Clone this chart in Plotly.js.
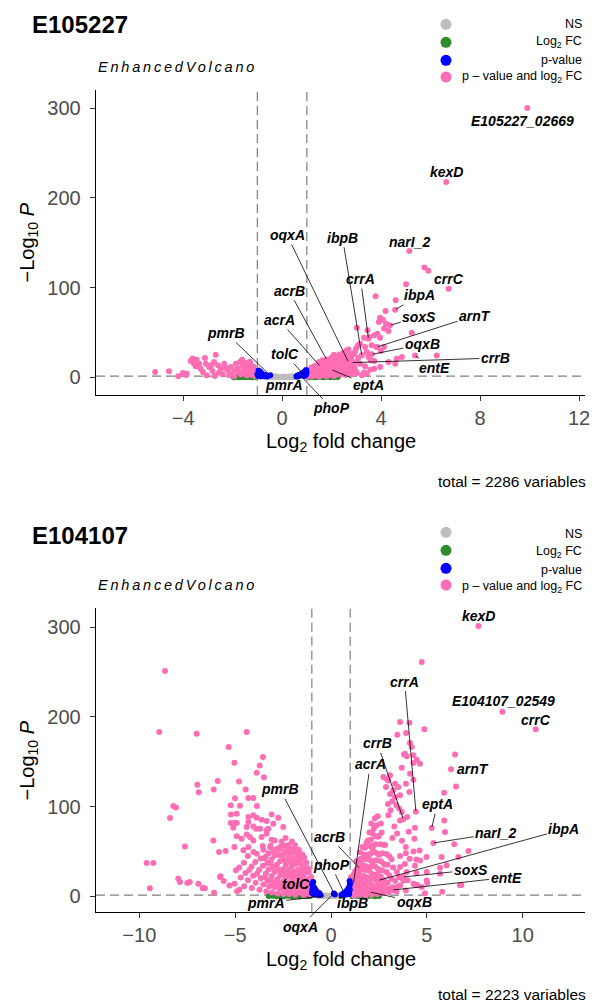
<!DOCTYPE html>
<html><head><meta charset="utf-8">
<script src="https://cdn.plot.ly/plotly-3.0.1.min.js"></script>
<style>html,body{margin:0;padding:0;background:#fff}#chart{width:592px;height:1004px}</style>
</head><body><div id="chart"></div>
<script>
// ---------------- DATA ----------------
const panelTitles = ["E105227", "E104107"];
const totals = [2286, 2223];
const legendLabels = ["NS", "Log<sub>2</sub> FC", "p-value", "p \u2013 value and log<sub>2</sub> FC"];
const xTicksTop = [-4, 0, 4, 8, 12];
const xTicksBottom = [-10, -5, 0, 5, 10];
const yTicks = [0, 100, 200, 300];
const fcCutoff = 1;
const pCutoffLog = 1.3;

// ---- E105227 ----
const topGenes = ["E105227_02669","kexD","narI_2","crrC","ibpA","soxS","arnT","oqxB","crrB","entE","eptA","crrA","ibpB","oqxA","acrB","acrA","tolC","pmrA","phoP","pmrB"];
const topGeneX = [9.91,6.63,5.14,6.73,4.57,4.36,3.83,3.62,2.82,5.37,2.0,3.49,3.22,2.68,1.8,1.54,0.88,0.3,0.73,-0.48];
const topGeneY = [300.3,217.8,140.8,98.8,75.4,58,33.8,25.6,16.4,24.2,8.5,43,24.5,17,19.7,12.3,3,0.8,2.2,2.2];
const topBoth = [
[5.75,122.3],[5.91,118.9],[5.01,103.7],[3.78,90.3],[4.59,85.8],[4.18,73.9],[3.96,66.5],[4.07,64.3],[3.91,61.7],[4.2,59.8],[4.12,54.3],[4.3,51.7],[3.02,55.4],[3.45,52.4],[3.53,45],[3.31,44.2],[3.73,46.8],[3.85,48.7],[3.96,44.2],[5.24,49.8],[3.15,37.5],[3.35,33.8],[2.99,32],[3.42,28.2],[3.62,35.7],[3.82,33.8],[3.99,29.4],[4.12,33.8],[3.49,22.7],[3.72,18.2],[4.63,20.8],[4.84,22.7],[6.25,24.2],[4.3,17.1],[4.57,15.2],[3.15,15.2],[3.35,12.3],[3.42,4.1],[3.22,2.2],[3.02,4.8],[2.91,9.7],[3.56,8.5],[3.96,11.5],[3.08,21.9],[2.81,25.6],[2.61,28.2],[3.58,19],[3.72,9.7],[3.31,5.5],
[1.04,1.2],[1.1,4.9],[1.06,7.3],[1.2,0.8],[1.15,3.9],[1.24,6.6],[1.18,10.9],[1.35,1.9],[1.3,4.6],[1.38,8.2],[1.31,12.6],[1.42,6.8],[1.5,0.6],[1.45,4.2],[1.53,6.8],[1.47,11.1],[1.55,13.6],[1.49,17.2],[1.65,2.6],[1.59,5.9],[1.68,8.4],[1.61,12.9],[1.7,15.1],[1.63,18.9],[1.8,1.1],[1.74,4.4],[1.83,7],[1.76,10.8],[1.85,13.3],[1.78,17.6],[1.87,19.8],[1.95,2.9],[1.89,6.4],[1.98,8.7],[1.9,13.2],[2.0,15.3],[1.92,19.8],[2.01,22.1],[2.1,1.6],[2.04,5.2],[2.13,7.6],[2.05,12],[2.15,14.3],[2.07,18.9],[2.16,21.1],[2.09,25.2],[2.25,3.4],[2.19,6.9],[2.28,9.5],[2.2,14.2],[2.3,17.1],[2.22,21.8],[2.31,25.3],[2.4,4.1],[2.34,7.8],[2.43,10.7],[2.35,15.9],[2.45,19],[2.37,24.4],[2.46,27.1],[2.55,2.7],[2.49,6.7],[2.58,9.8],[2.5,15.3],[2.6,18.3],[2.52,23.7],[2.59,29.6],[2.7,4.9],[2.64,9.4],[2.73,13.3],[2.65,18.8],[2.75,23.5],[2.68,31],[2.85,3.7],[2.79,8.5],[2.88,12.6],[2.8,20.4],[2.89,26],[2.98,6.8],[2.93,11.5],[3.04,18],[2.95,28.9],[3.06,35.6],
[-5.13,5.9],[-4.57,6.7],[-4.2,1.1],[-3.85,4],[-4.01,4.8],[-3.88,2.5],[-3.69,18.2],[-3.56,15.2],[-3.45,19.7],[-3.35,15.2],[-3.49,12.3],[-3.62,21],[-3.12,21.6],[-3.29,9.7],[-3.08,15.2],[-2.95,11.5],[-2.68,25.3],[-2.75,17.1],[-2.81,7.1],[-2.59,13.4],[-2.48,9.7],[-2.34,15.2],[-2.21,7.8],[-2.41,3.3],[-2.07,11.5],[-2.0,4.8],[-1.87,15.2],[-1.8,9.7],[-1.7,17.1],[-1.6,12.3],[-1.54,7.1],[-1.47,16],[-1.4,11.5],[-1.33,5.9],[-1.27,14.5],[-1.2,9.7],[-1.13,4.8],[-1.67,3.3],[-2.14,2.2],[-1.94,1.1],[-1.43,2.2],[-1.06,7.8],[-3.05,2.2],[-2.72,1.5],[-1.58,4.5],[-1.25,2.8],[-1.15,11.8],[-1.36,8.4],[-1.52,10.5],[-1.75,6.2],[-1.9,8.3],[-2.3,10.8],[-2.55,5.2],[-1.1,1.5],[-1.3,17.5],[-1.62,19.5],[-2.85,13.8],[-3.2,5.8]
];
const topP = [[-1.0,3.5],[-0.97,1.4],[-0.93,5.2],[-0.9,2.6],[-0.86,0.9],[-0.83,4.1],[-0.8,2],[-0.76,3.2],[-0.72,1.2],[-0.68,2.5],[-0.64,1.6],[-0.6,0.8],[-0.95,7.5],[-0.88,6.3],[0.58,1],[0.62,1.9],[0.66,1.2],[0.7,2.8],[0.74,1.9],[0.78,3.9],[0.82,2.6],[0.85,5.1],[0.88,3.4],[0.91,6.6],[0.94,4.3],[0.97,8.1],[0.99,5.5],[0.9,1.4],[0.96,2.5]];
const topNS = [[-0.58,0.4],[-0.5,0.7],[-0.44,0.2],[-0.38,0.5],[-0.3,0.3],[-0.22,0.6],[-0.15,0.2],[-0.08,0.4],[0,0.1],[0.07,0.5],[0.14,0.3],[0.22,0.6],[0.3,0.2],[0.37,0.5],[0.45,0.3],[0.52,0.6],[0.56,0.2],[-0.54,1],[-0.26,1.1],[0.1,1],[0.42,1.1],[-0.65,0.2],[0.62,0.3]];
const topFC = [[-1.95,0.2],[-1.85,0.5],[-1.72,0.1],[-1.6,0.4],[-1.48,0.1],[-1.36,0.5],[-1.22,0.2],[-1.1,0.3],[1.12,0.2],[1.25,0.5],[1.38,0.1],[1.52,0.4],[1.66,0.1],[1.8,0.5],[1.95,0.2],[2.1,0.1],[2.25,0.4]];

// ---- E104107 ----
const botGenes = ["kexD","E104107_02549","crrC","crrA","arnT","crrB","acrA","eptA","narI_2","ibpA","soxS","entE","oqxB","ibpB","oqxA","pmrA","tolC","phoP","acrB","pmrB"];
const botGeneX = [7.69,8.94,10.68,4.43,6.26,3.77,1.17,5.25,5.34,2.47,3.77,3.2,2.03,0.8,0.15,-0.3,-0.97,0.7,1.51,0.2];
const botGeneY = [301.4,205.9,186.2,94.4,141.6,86,14.1,76.2,59.5,17.8,21.6,7,4.8,2,3.3,0.5,13,3,30.8,2];
const botBoth = [
[4.73,261.2],[4.87,186.2],[4.09,193.6],[3.6,194.4],[3.46,180.2],[3.91,182.1],[4.12,170.9],[4.21,166.5],[3.81,158.3],[3.95,156.1],[4.47,152.4],[4.64,147.9],[4.3,148.6],[6.47,158.3],[6.52,122.6],[5.9,115.6],[2.9,131.2],[3.08,134.9],[3.34,125.6],[3.51,122],[3.25,118.2],[3.86,159],[4.3,157.2],[3.69,143.4],[4.12,136.8],[4.3,130],[3.91,125.6],[4.09,116.3],[2.73,133],[2.99,129.3],[2.87,121.9],[3.08,114],[3.34,110.5],[3.2,106],[3.41,101.5],[2.97,103],[3.55,98],[3.6,112.6],[3.11,95.9],[2.99,90.3],[3.6,84.7],[3.69,94],[3.98,88.4],[4.38,76.6],[4.05,72],[3.3,78],[3.45,70],[3.2,65],[3.7,62],[3.9,55],[4.3,50],[4.1,42],[4.38,34],[4.45,26],[5.91,84.7],[5.95,71.7],[6.43,58],[6.64,43.8],[5.77,43.8],[5.69,32],[6.03,34.6],[6.73,12.3],[5.69,25.3],[4.99,27.1],[5.02,15],[4.4,13],[4.0,18],[3.85,36],[4.65,40],[4.35,64.3],[7.17,50.5],[4.62,51],[4.98,44],[4.45,41],[3.9,48],[3.6,45],[3.77,17.8],[4.3,14.1],[4.73,10.4],[4.99,17.8],[3.6,32.7],[3.95,27.1],[3.43,10.4],[3.08,8.5],[3.9,6.4],[4.5,12.7],[4.9,3.5],[5.8,5.2],[6.8,12.7],
[1.03,2.6],[1.1,5.9],[1.05,11.1],[1.12,14.6],[1.04,21.2],[1.21,1.1],[1.15,6.2],[1.24,8.7],[1.17,14.4],[1.25,17.6],[1.19,24.3],[1.26,27.9],[1.36,2.7],[1.3,8.1],[1.39,10.6],[1.31,17.2],[1.4,20.8],[1.32,27.1],[1.38,31.6],[1.33,39.2],[1.51,1.9],[1.45,5.9],[1.54,8.8],[1.47,15.1],[1.56,18.6],[1.46,25.5],[1.53,29.4],[1.48,37.2],[1.55,41.6],[1.5,49.1],[1.66,3.9],[1.6,8.9],[1.69,12.4],[1.61,19.3],[1.7,22.6],[1.62,30.4],[1.68,34.6],[1.6,42.1],[1.71,46.6],[1.64,55.1],[1.81,0.9],[1.75,7.1],[1.84,10.5],[1.76,17.2],[1.85,21.4],[1.77,29.3],[1.83,33.5],[1.74,41.4],[1.86,45.5],[1.78,54.2],[1.84,59.6],[1.96,4.9],[1.9,8.6],[1.99,15.9],[1.91,20.4],[2.0,28.3],[1.92,32.4],[1.98,41.2],[1.89,46.4],[2.01,56.3],[1.93,62.4],[2.0,71.1],[2.11,1.7],[2.05,8.1],[2.14,12.6],[2.06,20.1],[2.15,24.5],[2.07,33.2],[2.13,38.6],[2.04,47.1],[2.16,53.5],[2.08,63.2],[2.15,70.4],[2.1,81.1],[2.26,5.8],[2.2,10.6],[2.29,19.1],[2.21,24.3],[2.3,33.3],[2.22,39.5],[2.28,49.2],[2.19,56.4],[2.31,67.1],[2.23,75.5],[2.29,87.2],[2.41,2.6],[2.35,10.1],[2.44,15.6],[2.36,24.2],[2.45,30.4],[2.37,40.3],[2.43,47.4],[2.34,58.1],[2.46,66.5],[2.38,79.2],[2.44,89.3],[2.56,7.1],[2.5,12.4],[2.59,22.2],[2.51,28.5],[2.6,39.1],[2.52,46.5],[2.58,58.2],[2.49,67.4],[2.6,81.2],[2.71,3.4],[2.65,12.1],[2.74,18.5],[2.66,29.2],[2.75,36.4],[2.67,48.1],[2.73,57.5],[2.64,71.1],[2.86,9.1],[2.8,16.4],[2.89,27.2],[2.81,35.5],[2.9,47.1],[2.82,57.4],[3.01,4.6],[2.95,15.1],[3.04,23.4],[2.96,35.2],[3.05,44.5],[3.21,10.1],[3.15,19.5],[3.24,32.1],[3.16,41.3],[3.41,5.5],[3.35,17.2],[3.44,27.3],[3.61,12.1],[3.55,21.4],
[-8.66,251.2],[-8.96,183.2],[-7.01,181.3],[-4.4,183.2],[-5.34,166.5],[-5.04,149],[-3.55,155.3],[-3.72,146],[-3.88,137.7],[-3.5,132.7],[-5.91,128.6],[-6.97,124.3],[-6.9,116.1],[-6.12,119.1],[-4.8,128.2],[-4.45,119.1],[-5.01,109.5],[-4.31,109.8],[-4.05,109.8],[-3.87,100.7],[-8.23,100.7],[-8.09,99.2],[-8.4,87.3],[-5.23,101.5],[-4.75,101.1],[-5.22,91.4],[-4.92,92.2],[-4.31,88.4],[-4.05,90.3],[-3.88,87.7],[-3.62,85.5],[-3.36,84],[-3.1,91.4],[-2.75,87.7],[-5.01,82.1],[-4.4,77.3],[-4.05,78],[-3.7,75.4],[-3.36,73.6],[-3.01,81],[-2.49,77.3],[-6.14,62.4],[-7.62,55.7],[-5.84,49.4],[-5.5,50.5],[-5.04,55],[-4.57,51.3],[-4.31,55],[-4.05,49.4],[-3.53,52],[-3.18,55],[-2.92,51.3],[-2.66,53.1],[-2.4,49.4],[-9.62,37.2],[-9.27,37.2],[-7.97,19.7],[-5.76,22.3],[-9.45,9],[-7.88,15.9],[-7.37,15.9],[-6.58,9],[-5.6,17],[-4.9,5.6],[-6.1,4],[-5.3,12],[-5.23,81.8],[-5.1,76.6],[-4.92,81.8],[-4.31,82.9],[-3.91,75.4],[-3.27,75.4],[-4.92,66.9],[-4.66,64.3],[-4.4,69.1],[-4.23,66.1],[-4.05,62.4],[-3.62,66.1],[-3.36,69.9],[-3.1,63.2],[-7.5,14.9],[-6.92,14.1],[-6.7,9.3],[-5.79,21.6],
[-1.06,2.1],[-1.15,6.8],[-1.09,11.9],[-1.18,15.2],[-1.04,21.5],[-1.16,27.3],[-1.27,3.4],[-1.21,9.8],[-1.33,13.6],[-1.22,19.1],[-1.3,26.9],[-1.2,31.4],[-1.29,37.6],[-1.41,1.1],[-1.36,6.9],[-1.46,10.4],[-1.37,18.2],[-1.45,22.4],[-1.38,30.1],[-1.47,34.6],[-1.4,43.3],[-1.57,3.9],[-1.51,7.6],[-1.6,15.1],[-1.52,19.4],[-1.61,27.2],[-1.53,32.4],[-1.58,41.1],[-1.5,46.6],[-1.72,4.6],[-1.65,12.1],[-1.77,16.3],[-1.66,24.2],[-1.74,29.5],[-1.67,38.1],[-1.76,43.5],[-1.68,52.1],[-1.86,1.8],[-1.81,8.9],[-1.9,13.6],[-1.82,22.1],[-1.93,27.3],[-1.83,36.2],[-1.91,41.6],[-1.8,48.4],[-1.88,57.1],[-2.03,6.1],[-1.96,10.3],[-2.06,19.2],[-1.97,24.4],[-2.05,33.1],[-1.95,38.5],[-2.07,47.2],[-1.98,52.3],[-2.04,61.1],[-2.18,2.6],[-2.11,9.9],[-2.2,15.3],[-2.12,24.1],[-2.21,29.4],[-2.1,38.2],[-2.19,43.4],[-2.13,52.2],[-2.22,57.3],[-2.33,7.1],[-2.26,12.4],[-2.35,21.2],[-2.27,26.3],[-2.36,35.2],[-2.25,40.4],[-2.34,49.1],[-2.28,55.2],[-2.37,65.1],[-2.48,2.7],[-2.41,10.9],[-2.5,16.4],[-2.42,25.2],[-2.51,30.3],[-2.4,40.1],[-2.49,46.2],[-2.43,56.3],[-2.63,8.1],[-2.56,13.2],[-2.65,23.1],[-2.57,29.3],[-2.66,39.1],[-2.55,45.2],[-2.64,55.1],[-2.58,61.3],[-2.78,3.3],[-2.71,13.1],[-2.8,19.2],[-2.72,29.1],[-2.81,35.4],[-2.7,46.1],[-2.79,53.3],[-2.93,10.2],[-2.86,16.3],[-2.95,27.1],[-2.87,34.2],[-2.96,45.2],[-2.85,51.4],[-2.94,62.2],[-3.08,4.4],[-3.01,15.1],[-3.1,22.3],[-3.02,33.1],[-3.11,41.2],[-3.0,51.1],[-3.23,11.1],[-3.16,18.4],[-3.25,30.1],[-3.17,37.2],[-3.26,48.1],[-3.15,56.3],[-3.38,5.3],[-3.31,17.2],[-3.4,25.4],[-3.32,37.1],[-3.41,44.3],[-3.53,13.1],[-3.46,21.3],[-3.55,34.2],[-3.47,42.4],[-3.56,56.2],[-3.73,7.3],[-3.66,20.1],[-3.75,29.4],[-3.67,42.2],[-3.93,15.1],[-3.86,25.3],[-3.95,38.2],[-3.87,47.4],[-4.13,9.2],[-4.06,23.1],[-4.14,33.3],[-4.33,18.1],[-4.26,29.3],[-4.34,45.1],[-4.53,11.3],[-4.46,26.1],[-4.54,37.4],[-4.78,7.4],[-4.71,21.1],[-4.79,32.3],[-5.03,14.2],[-4.96,29.1]
];
const botP = [[-1.0,4],[-0.97,8],[-0.95,11],[-0.92,2.5],[-0.9,6],[-0.87,9.5],[-0.84,3.5],[-0.8,7],[-0.77,2],[-0.74,5],[-0.7,3],[-0.66,1.8],[-0.62,3.8],[-0.58,2.2],[-0.55,1.6],[-0.99,14],[-0.93,16],[0.55,1.6],[0.6,2.5],[0.64,1.9],[0.68,3.6],[0.72,2.4],[0.76,5],[0.8,3.2],[0.84,6.8],[0.87,4.4],[0.9,8.5],[0.93,5.7],[0.96,11],[0.98,7.5],[0.99,14],[0.95,2.6],[0.97,17]];
const botNS = [[-0.58,0.4],[-0.5,0.7],[-0.44,0.2],[-0.38,0.5],[-0.3,0.3],[-0.22,0.6],[-0.15,0.2],[-0.08,0.4],[0,0.1],[0.07,0.5],[0.14,0.3],[0.22,0.6],[0.3,0.2],[0.37,0.5],[0.45,0.3],[0.52,0.6],[0.56,0.2],[-0.54,1],[-0.26,1.1],[0.1,1],[0.42,1.1],[-0.65,0.2],[0.62,0.3]];
const botFC = [[-3.25,0.3],[-3.05,0.6],[-2.85,0.1],[-2.65,0.5],[-2.45,0.2],[-2.25,0.6],[-2.05,0.1],[-1.85,0.4],[-1.65,0.1],[-1.45,0.5],[-1.25,0.2],[-1.1,0.4],[1.1,0.3],[1.3,0.6],[1.5,0.1],[1.7,0.5],[1.9,0.2],[2.1,0.6],[2.3,0.1],[2.5,0.4]];

// ---------------- LAYOUT / STYLE ----------------
const W = 592, H = 1004;
const COL = {ns:'#BEBEBE', fc:'#2E8B2E', p:'#0000FF', both:'#FF6EB4'};
const FONT = 'Liberation Sans, Arial, sans-serif';
const px = v => v / W;
const py = v => 1 - v / H;

function classify(x, y) {
  if (Math.abs(x) > fcCutoff && y > pCutoffLog) return 'both';
  if (y > pCutoffLog) return 'p';
  if (Math.abs(x) > fcCutoff) return 'fc';
  return 'ns';
}

function buildTraces(xa, ya, both, pv, ns, fc, gx, gy) {
  const groups = {both: both.slice(), p: pv.slice(), ns: ns.slice(), fc: fc.slice()};
  gx.forEach((x, i) => groups[classify(x, gy[i])].push([x, gy[i]]));
  return ['fc', 'ns', 'both', 'p'].map(k => ({
    type: 'scatter', mode: 'markers', xaxis: xa, yaxis: ya, showlegend: false, hoverinfo: 'skip',
    x: groups[k].map(d => d[0]), y: groups[k].map(d => d[1]),
    marker: {size: 6, color: COL[k], line: {width: 0}}
  }));
}

const traces = [
  ...buildTraces('x', 'y', topBoth, topP, topNS, topFC, topGeneX, topGeneY),
  ...buildTraces('x2', 'y2', botBoth, botP, botNS, botFC, botGeneX, botGeneY)
];

// label placements (data units of each panel): [labelX, labelY, drawSegment]
const topLabelPos = {
  "E105227_02669":[9.7,286,0], "kexD":[6.63,228.9,0], "narI_2":[5.13,150.8,0], "crrC":[6.73,109.6,0],
  "ibpA":[5.56,91.4,1], "soxS":[5.54,67.2,1], "arnT":[7.8,68.7,1], "oqxB":[5.67,36.8,1], "crrB":[8.61,21.5,1],
  "entE":[6.14,10.7,1], "eptA":[3.49,-8.6,1], "crrA":[3.17,109.6,1], "ibpB":[2.44,155.6,1], "oqxA":[0.2,158.6,1],
  "acrB":[0.28,96.5,1], "acrA":[-0.12,63.9,1], "tolC":[0.12,26,1], "pmrA":[0.08,-8.6,0], "phoP":[2.01,-34.6,1], "pmrB":[-2.26,49.4,1]
};
const botLabelPos = {
  "kexD":[7.7,313,0], "E104107_02549":[8.99,218.2,0], "crrC":[10.69,196.7,0], "crrA":[3.84,239.4,1], "arnT":[7.39,142,0],
  "crrB":[2.42,170.7,1], "acrA":[2.05,147.3,1], "eptA":[5.55,102.7,1], "narI_2":[8.59,70.3,1], "ibpA":[12.15,74.8,1],
  "soxS":[7.29,29.4,1], "entE":[9.13,21,1], "oqxB":[4.33,-5.9,1], "ibpB":[1.1,-7,1], "oqxA":[-1.59,-33.8,1],
  "pmrA":[-3.41,-7,1], "tolC":[-1.83,13.8,1], "phoP":[0,35,1], "acrB":[-0.1,66.6,1], "pmrB":[-2.66,119.4,1]
};

function geneAnnots(genes, gx, gy, pos, xr, yr) {
  return genes.map((g, i) => {
    const p = pos[g];
    const base = {text: '<b><i>' + g + '</i></b>', font: {family: FONT, size: 14, color: '#000'}, xref: xr, yref: yr};
    if (!p[2]) return Object.assign(base, {x: p[0], y: p[1], showarrow: false});
    return Object.assign(base, {x: gx[i], y: gy[i], ax: p[0], ay: p[1], axref: xr, ayref: yr,
      showarrow: true, arrowhead: 0, arrowwidth: 0.8, arrowcolor: '#000', standoff: 1, startstandoff: 0});
  });
}

function panelDecor(off, axOff, capY, title, total) {
  const a = [];
  a.push({xref:'paper', yref:'paper', x:px(30), y:py(25+off), xanchor:'left', yanchor:'middle', showarrow:false,
    text:'<b>' + title + '</b>', font:{family:FONT, size:24, color:'#000'}});
  a.push({xref:'paper', yref:'paper', x:px(177), y:py(67+axOff), xanchor:'center', yanchor:'middle', showarrow:false,
    text:'<i>EnhancedVolcano</i>', font:{family:FONT, size:14.5, color:'#000'}});
  const ly = [24.3, 42.3, 60.3, 77];
  legendLabels.forEach((t, i) => a.push({xref:'paper', yref:'paper', x:px(584), y:py(ly[i]+off), xanchor:'right', yanchor:'middle',
    showarrow:false, text:t, font:{family:FONT, size:12.5, color:'#000'}}));
  a.push({xref:'paper', yref:'paper', x:px(588), y:py(capY), xanchor:'right', yanchor:'middle', showarrow:false,
    text:'total = ' + total + ' variables', font:{family:FONT, size:15.5, color:'#000'}});
  a.push({xref:'paper', yref:'paper', x:px(340.5), y:py(442+axOff), xanchor:'center', yanchor:'middle', showarrow:false,
    text:'Log<sub>2</sub> fold change', font:{family:FONT, size:20, color:'#000'}});
  a.push({xref:'paper', yref:'paper', x:px(28), y:py(242.5+axOff), xanchor:'center', yanchor:'middle', showarrow:false, textangle:-90,
    text:'\u2212Log<sub>10</sub> <i>P</i>', font:{family:FONT, size:20, color:'#000'}});
  return a;
}

function legendShapes(off) {
  const ly = [24.3, 42.3, 60.3, 77];
  return ['ns','fc','p','both'].map((k, i) => ({type:'circle', xref:'paper', yref:'paper', xsizemode:'pixel', ysizemode:'pixel',
    xanchor:px(446), yanchor:py(ly[i]+off), x0:-5.5, x1:5.5, y0:-5.5, y1:5.5, fillcolor:COL[k], line:{width:0}}));
}

function cutShapes(xr, yr) {
  const dash = {color:'#7F7F7F', width:1.2, dash:'9px,5px'};
  return [
    {type:'line', layer:'below', xref:xr, yref:yr + ' domain', x0:-fcCutoff, x1:-fcCutoff, y0:0, y1:1, line:dash},
    {type:'line', layer:'below', xref:xr, yref:yr + ' domain', x0:fcCutoff, x1:fcCutoff, y0:0, y1:1, line:dash},
    {type:'line', layer:'below', xref:xr + ' domain', yref:yr, x0:0, x1:1, y0:pCutoffLog, y1:pCutoffLog, line:dash}
  ];
}

const axisCommon = {showline:true, linecolor:'#000', linewidth:1.3, ticks:'outside', ticklen:5, tickwidth:1, tickcolor:'#333',
  showgrid:false, zeroline:false, tickfont:{family:FONT, size:20, color:'#4D4D4D'}, fixedrange:true};

const layout = {
  width: W, height: H, margin: {l:0, r:0, t:0, b:0}, paper_bgcolor:'#fff', plot_bgcolor:'#fff', showlegend:false,
  xaxis: Object.assign({}, axisCommon, {domain:[px(96), px(585)], range:[-7.52, 12.24], tickvals:xTicksTop, anchor:'y', ticklabelstandoff:0}),
  yaxis: Object.assign({}, axisCommon, {domain:[py(395), py(90)], range:[-19.7, 320.3], tickvals:yTicks, anchor:'x', ticklabelstandoff:5}),
  xaxis2: Object.assign({}, axisCommon, {domain:[px(96), px(585)], range:[-12.26, 13.25], tickvals:xTicksBottom, anchor:'y2', ticklabelstandoff:0}),
  yaxis2: Object.assign({}, axisCommon, {domain:[py(911.7), py(608)], range:[-17.1, 321.5], tickvals:yTicks, anchor:'x2', ticklabelstandoff:5}),
  shapes: [...cutShapes('x', 'y'), ...cutShapes('x2', 'y2'), ...legendShapes(0), ...legendShapes(508)],
  annotations: [
    ...panelDecor(0, 0, 481, panelTitles[0], totals[0]),
    ...panelDecor(510, 518, 994, panelTitles[1], totals[1]),
    ...geneAnnots(topGenes, topGeneX, topGeneY, topLabelPos, 'x', 'y'),
    ...geneAnnots(botGenes, botGeneX, botGeneY, botLabelPos, 'x2', 'y2')
  ]
};

Plotly.newPlot('chart', traces, layout, {displayModeBar:false, staticPlot:true}).then(() => {
  document.querySelectorAll('.annotation-text').forEach(el => {
    if (el.textContent === 'EnhancedVolcano') el.style.letterSpacing = '2.8px';
  });
});
</script></body></html>
